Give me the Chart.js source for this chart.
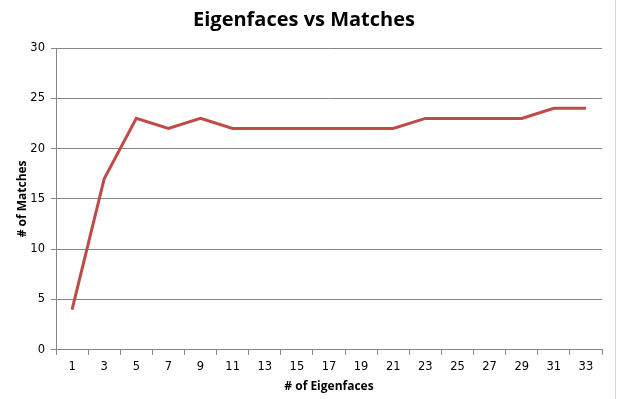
<!DOCTYPE html>
<html>
<head>
<meta charset="utf-8">
<script src="https://cdn.jsdelivr.net/npm/chart.js@4"></script>
<style>
  html, body { margin: 0; padding: 0; background: #fff; }
  #wrap { position: relative; width: 618px; height: 399px; }
  #edge { position: absolute; left: 615px; top: 0; width: 1px; height: 399px; background: #d4d4d4; }
</style>
</head>
<body>
<div id="wrap">
  <canvas id="chart" width="618" height="399"></canvas>
  <div id="edge"></div>
</div>
<script>
// --- Data ---
const eigenfaces = ["1", "3", "5", "7", "9", "11", "13", "15", "17", "19", "21", "23", "25", "27", "29", "31", "33"];
const matches = [4, 17, 23, 22, 23, 22, 22, 22, 22, 22, 22, 23, 23, 23, 23, 24, 24];
const yTicks = [0, 5, 10, 15, 20, 25, 30];

const gridColor = "#868686";
const tickFont = { family: "DejaVu Sans", size: 11.5 };
const titleFont = { family: "Open Sans", size: 12, weight: "bold" };

// --- Chart.js Setup ---
const ctx = document.getElementById("chart");
const chart = new Chart(ctx, {
  type: "line",
  data: {
    labels: eigenfaces,
    datasets: [
      {
        label: "Matches",
        data: matches,
        borderColor: "#BE4B48",
        borderWidth: 3,
        pointRadius: 0,
        tension: 0,
      },
    ],
  },
  options: {
    responsive: false,
    animation: false,
    layout: { padding: { left: 6, right: 16, top: 5, bottom: 3 } },
    plugins: {
      legend: { display: false },
      tooltip: { enabled: false },
      title: {
        display: true,
        text: "Eigenfaces vs Matches",
        color: "#000",
        font: { family: "Open Sans", size: 20, weight: "bold" },
        padding: { top: 3, bottom: 16 },
      },
    },
    scales: {
      x: {
        offset: true,
        ticks: { color: "#000", font: tickFont, maxRotation: 0, autoSkip: false, padding: 5 },
        grid: {
          offset: true,
          drawOnChartArea: false,
          drawTicks: true,
          tickLength: 5,
          color: gridColor,
        },
        border: { color: gridColor },
        title: { display: true, text: "# of Eigenfaces", color: "#000", font: titleFont, padding: { top: 1, bottom: 2 } },
      },
      y: {
        min: 0,
        max: 30,
        afterBuildTicks: (axis) => {
          axis.ticks = yTicks.map((v) => ({ value: v }));
        },
        afterFit: (axis) => {
          axis.width = 50;
        },
        ticks: { color: "#000", font: tickFont, padding: 6 },
        grid: { color: gridColor, tickLength: 5 },
        border: { color: gridColor },
        title: { display: true, text: "# of Matches", color: "#000", font: titleFont, padding: { top: 9, bottom: 0 } },
      },
    },
  },
});
</script>
</body>
</html>
